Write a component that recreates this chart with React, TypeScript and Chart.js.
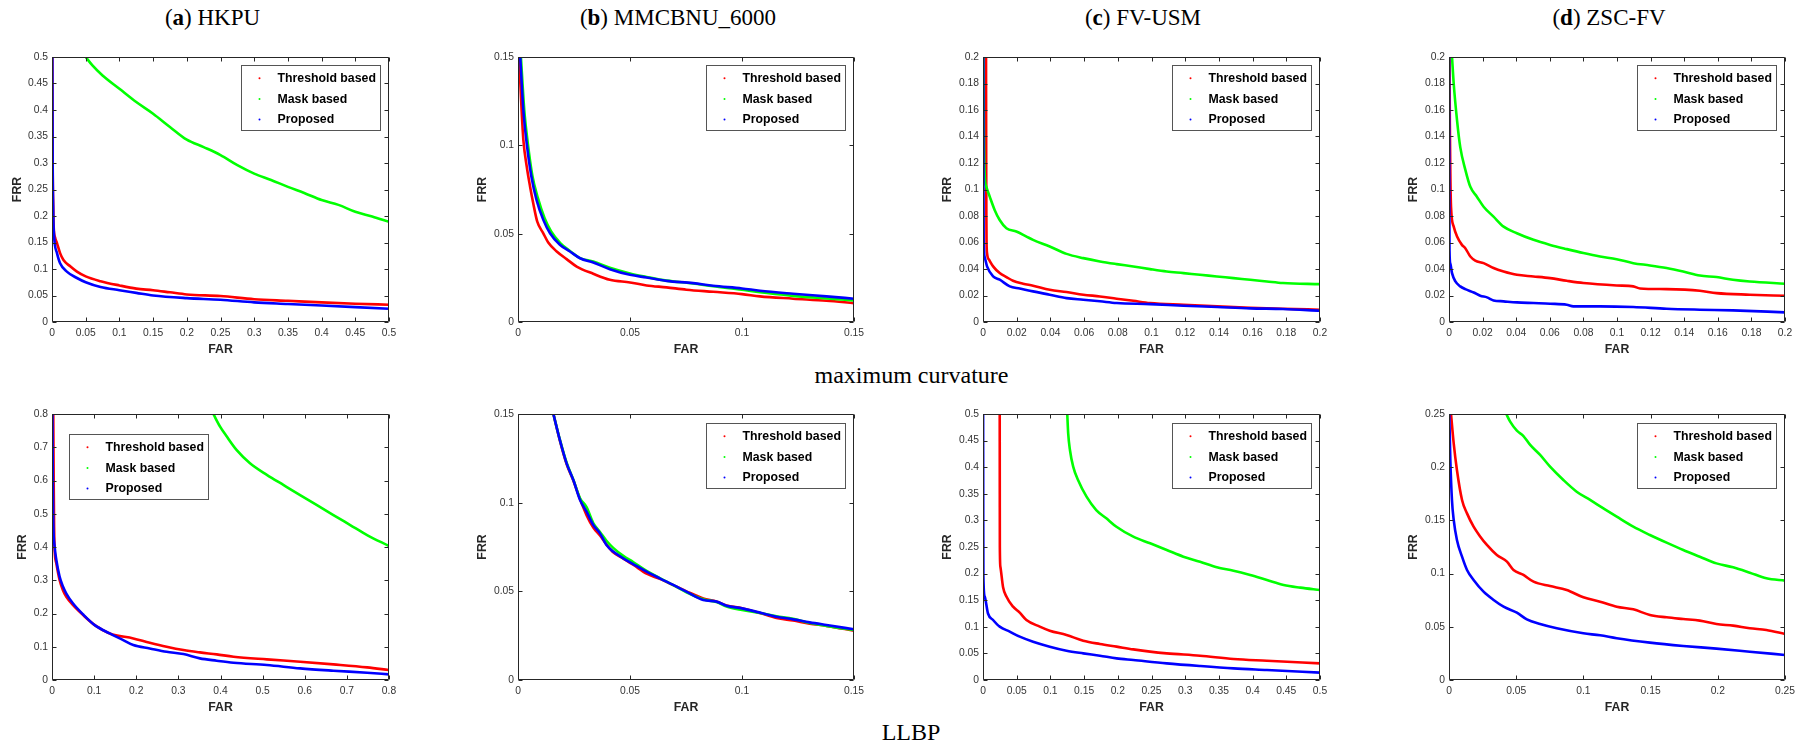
import React, { useEffect, useRef } from 'react';
import { Chart, registerables } from 'chart.js';

Chart.register(...registerables);

type Pt = [number, number];

// ---------- Series labels / colours ----------
const seriesLabels = ['Threshold based', 'Mask based', 'Proposed'];
const seriesColors = ['#ff0000', '#00ff00', '#0000ff'];

// ---------- Panel titles ----------
const panelTitles: [string, string][] = [
  ['a', 'HKPU'],
  ['b', 'MMCBNU_6000'],
  ['c', 'FV-USM'],
  ['d', 'ZSC-FV'],
];
const rowCaptions = ['maximum curvature', 'LLBP'];

// ---------- Tick values ----------
const ticks05by005 = [0, 0.05, 0.1, 0.15, 0.2, 0.25, 0.3, 0.35, 0.4, 0.45, 0.5];
const ticks015by005 = [0, 0.05, 0.1, 0.15];
const ticks02by002 = [0, 0.02, 0.04, 0.06, 0.08, 0.1, 0.12, 0.14, 0.16, 0.18, 0.2];
const ticks08by01 = [0, 0.1, 0.2, 0.3, 0.4, 0.5, 0.6, 0.7, 0.8];
const ticks025by005 = [0, 0.05, 0.1, 0.15, 0.2, 0.25];

// ---------- (a) HKPU, maximum curvature ----------
const hkpuMcThreshold: Pt[] = [[0.0005,0.5],[0.001,0.3],[0.0018,0.22],[0.0025,0.18],[0.0045,0.16],[0.0074,0.149],[0.012,0.13],[0.017,0.117],[0.027,0.105],[0.037,0.095],[0.05,0.086],[0.072,0.077],[0.1,0.069],[0.125,0.063],[0.15,0.06],[0.175,0.056],[0.2,0.052],[0.25,0.049],[0.3,0.043],[0.35,0.04],[0.4,0.037],[0.45,0.0345],[0.5,0.0326]];
const hkpuMcMask: Pt[] = [[0.05,0.5],[0.06,0.484],[0.075,0.465],[0.1,0.44],[0.125,0.415],[0.15,0.393],[0.175,0.368],[0.2,0.344],[0.225,0.33],[0.25,0.315],[0.275,0.296],[0.3,0.28],[0.325,0.268],[0.35,0.255],[0.375,0.243],[0.4,0.23],[0.425,0.221],[0.45,0.208],[0.475,0.199],[0.5,0.189]];
const hkpuMcProposed: Pt[] = [[0.0005,0.5],[0.001,0.3],[0.0017,0.22],[0.0025,0.174],[0.0074,0.13],[0.012,0.111],[0.022,0.095],[0.037,0.083],[0.05,0.075],[0.072,0.066],[0.1,0.06],[0.125,0.055],[0.15,0.05],[0.2,0.045],[0.25,0.042],[0.3,0.037],[0.35,0.034],[0.4,0.031],[0.45,0.028],[0.5,0.025]];

// ---------- (b) MMCBNU_6000, maximum curvature ----------
const mmcMcThreshold: Pt[] = [[0.0005,0.15],[0.0016,0.12],[0.0024,0.103],[0.0039,0.088],[0.0054,0.0766],[0.0068,0.0672],[0.0086,0.0568],[0.0113,0.0502],[0.0135,0.045],[0.0173,0.0399],[0.0217,0.0356],[0.0262,0.0314],[0.0336,0.0273],[0.041,0.0239],[0.05,0.0224],[0.0574,0.0207],[0.0663,0.0196],[0.0752,0.0183],[0.0871,0.0171],[0.1,0.0158],[0.108,0.0145],[0.1228,0.0132],[0.1377,0.012],[0.15,0.0107]];
const mmcMcMask: Pt[] = [[0.0013,0.15],[0.0028,0.12],[0.0043,0.102],[0.0064,0.083],[0.0088,0.0705],[0.0118,0.059],[0.0148,0.0512],[0.019,0.0445],[0.0232,0.0402],[0.0277,0.0362],[0.0336,0.0342],[0.041,0.0307],[0.05,0.0275],[0.0574,0.0255],[0.0663,0.0234],[0.0782,0.0218],[0.0871,0.0202],[0.1,0.0183],[0.108,0.0168],[0.1228,0.0148],[0.1377,0.0133],[0.15,0.0122]];
const mmcMcProposed: Pt[] = [[0.001,0.15],[0.0024,0.12],[0.0039,0.101],[0.006,0.0822],[0.0083,0.069],[0.0113,0.0578],[0.0143,0.0502],[0.0187,0.0437],[0.0232,0.0399],[0.0277,0.0361],[0.0336,0.0337],[0.041,0.0299],[0.05,0.0267],[0.0574,0.0252],[0.0663,0.0233],[0.0782,0.022],[0.0871,0.0205],[0.1,0.019],[0.108,0.0177],[0.1228,0.016],[0.1377,0.0145],[0.15,0.0132]];

// ---------- (c) FV-USM, maximum curvature ----------
const usmMcThreshold: Pt[] = [[0.0018,0.2],[0.0019,0.12],[0.002,0.08],[0.0021,0.062],[0.0024,0.052],[0.0036,0.047],[0.006,0.042],[0.0099,0.0369],[0.0139,0.0339],[0.0178,0.0311],[0.0238,0.0289],[0.0297,0.0274],[0.0396,0.0243],[0.0496,0.0226],[0.0595,0.0206],[0.0694,0.0193],[0.0793,0.0176],[0.0892,0.016],[0.0991,0.0143],[0.119,0.013],[0.139,0.0118],[0.1586,0.0108],[0.178,0.01],[0.2,0.0093]];
const usmMcMask: Pt[] = [[0.0003,0.2],[0.0005,0.15],[0.0008,0.12],[0.0012,0.107],[0.002,0.102],[0.004,0.0946],[0.0069,0.0846],[0.0099,0.077],[0.0139,0.0708],[0.0198,0.0683],[0.0258,0.0645],[0.0297,0.062],[0.0396,0.057],[0.0496,0.0514],[0.0595,0.0482],[0.0694,0.0457],[0.0793,0.0437],[0.0892,0.0419],[0.0991,0.0399],[0.109,0.0381],[0.119,0.0369],[0.1288,0.0356],[0.1388,0.0344],[0.1487,0.0331],[0.1586,0.0319],[0.1685,0.0306],[0.178,0.0294],[0.2,0.0286]];
const usmMcProposed: Pt[] = [[0.0002,0.2],[0.0003,0.1],[0.0004,0.062],[0.001,0.049],[0.0024,0.042],[0.006,0.0344],[0.0099,0.0319],[0.0159,0.0269],[0.0218,0.0253],[0.0297,0.0231],[0.0396,0.0206],[0.0496,0.018],[0.0595,0.0168],[0.0694,0.0156],[0.0793,0.0143],[0.0991,0.0135],[0.119,0.0123],[0.139,0.0113],[0.1586,0.0103],[0.178,0.0098],[0.2,0.0085]];

// ---------- (d) ZSC-FV, maximum curvature ----------
const zscMcThreshold: Pt[] = [[0.0003,0.2],[0.0005,0.15],[0.0008,0.112],[0.0012,0.087],[0.0028,0.072],[0.0048,0.0645],[0.0077,0.0582],[0.0097,0.0557],[0.0127,0.0494],[0.0156,0.0464],[0.0206,0.0444],[0.0265,0.0407],[0.0325,0.0381],[0.0404,0.0356],[0.0503,0.0344],[0.0602,0.0331],[0.0701,0.0311],[0.08,0.0294],[0.0998,0.0276],[0.1097,0.0269],[0.1137,0.0253],[0.1295,0.0248],[0.1493,0.0236],[0.1592,0.0218],[0.179,0.0206],[0.2,0.0198]];
const zscMcMask: Pt[] = [[0.0018,0.2],[0.0028,0.18],[0.0048,0.152],[0.0067,0.132],[0.0097,0.115],[0.0127,0.102],[0.0166,0.0946],[0.0206,0.087],[0.0265,0.0795],[0.0325,0.072],[0.0404,0.067],[0.0503,0.062],[0.0602,0.0582],[0.0701,0.055],[0.08,0.052],[0.0899,0.0494],[0.0998,0.0474],[0.1097,0.0444],[0.1196,0.0427],[0.1295,0.0407],[0.1394,0.0381],[0.1493,0.0351],[0.1592,0.0339],[0.169,0.0319],[0.179,0.0306],[0.2,0.0289]];
const zscMcProposed: Pt[] = [[0.0001,0.2],[0.0002,0.1],[0.0003,0.054],[0.0008,0.044],[0.0018,0.0369],[0.0038,0.0306],[0.0067,0.0269],[0.0097,0.0248],[0.0147,0.0223],[0.0186,0.0198],[0.0226,0.0186],[0.0265,0.0163],[0.0325,0.0156],[0.0404,0.0148],[0.0503,0.0143],[0.0602,0.0138],[0.0701,0.013],[0.074,0.0118],[0.0899,0.0118],[0.1097,0.0113],[0.1295,0.01],[0.1493,0.0093],[0.169,0.0088],[0.2,0.0073]];

// ---------- (a) HKPU, LLBP ----------
const hkpuLbThreshold: Pt[] = [[0.003,0.8],[0.004,0.6],[0.005,0.461],[0.0063,0.391],[0.0103,0.351],[0.018,0.301],[0.026,0.27],[0.034,0.25],[0.05,0.225],[0.074,0.195],[0.1015,0.165],[0.137,0.14],[0.193,0.125],[0.232,0.112],[0.272,0.1],[0.312,0.09],[0.351,0.083],[0.391,0.077],[0.431,0.07],[0.51,0.062],[0.589,0.055],[0.668,0.047],[0.748,0.038],[0.8,0.03]];
const hkpuLbMask: Pt[] = [[0.383,0.8],[0.399,0.762],[0.415,0.732],[0.438,0.692],[0.47,0.652],[0.51,0.617],[0.55,0.586],[0.589,0.556],[0.629,0.526],[0.668,0.496],[0.708,0.466],[0.748,0.436],[0.8,0.403]];
const hkpuLbProposed: Pt[] = [[0.001,0.8],[0.002,0.6],[0.003,0.48],[0.0063,0.401],[0.0103,0.361],[0.018,0.311],[0.026,0.281],[0.034,0.26],[0.05,0.23],[0.074,0.197],[0.1015,0.165],[0.137,0.14],[0.169,0.12],[0.193,0.105],[0.232,0.095],[0.272,0.085],[0.312,0.078],[0.351,0.065],[0.391,0.058],[0.431,0.052],[0.51,0.045],[0.589,0.035],[0.668,0.028],[0.748,0.022],[0.8,0.017]];

// ---------- (b) MMCBNU_6000, LLBP ----------
const mmcLbThreshold: Pt[] = [[0.0158,0.15],[0.0187,0.135],[0.0217,0.1218],[0.0247,0.1125],[0.0277,0.102],[0.0306,0.093],[0.0336,0.086],[0.0366,0.0815],[0.0395,0.0765],[0.0425,0.072],[0.047,0.0685],[0.0514,0.065],[0.0574,0.06],[0.0633,0.057],[0.0693,0.0535],[0.0752,0.05],[0.0827,0.046],[0.0886,0.0443],[0.0931,0.042],[0.1,0.0405],[0.108,0.0378],[0.1154,0.035],[0.1228,0.0335],[0.1302,0.0318],[0.1377,0.0305],[0.15,0.0278]];
const mmcLbMask: Pt[] = [[0.0158,0.15],[0.0187,0.1355],[0.0217,0.1225],[0.0247,0.113],[0.0277,0.1025],[0.0306,0.0975],[0.0336,0.0885],[0.0366,0.0835],[0.0395,0.0785],[0.0425,0.0745],[0.047,0.07],[0.0514,0.0665],[0.0574,0.0615],[0.0633,0.0575],[0.0693,0.0535],[0.0752,0.0495],[0.0827,0.0455],[0.0886,0.044],[0.0931,0.0415],[0.1,0.0395],[0.108,0.0378],[0.1154,0.036],[0.1228,0.0345],[0.1302,0.0322],[0.1377,0.0305],[0.15,0.0282]];
const mmcLbProposed: Pt[] = [[0.0158,0.15],[0.0187,0.1353],[0.0217,0.1222],[0.0247,0.1128],[0.0277,0.1015],[0.0306,0.0949],[0.0336,0.0874],[0.0366,0.0827],[0.0395,0.0761],[0.0425,0.0724],[0.047,0.0686],[0.0514,0.0654],[0.0574,0.0611],[0.0633,0.0573],[0.0693,0.0536],[0.0752,0.0498],[0.0827,0.0451],[0.0886,0.0442],[0.0931,0.0419],[0.1,0.0404],[0.108,0.038],[0.1154,0.0357],[0.1228,0.0342],[0.1302,0.0325],[0.1377,0.031],[0.15,0.0286]];

// ---------- (c) FV-USM, LLBP ----------
const usmLbThreshold: Pt[] = [[0.0248,0.5],[0.0249,0.35],[0.025,0.25],[0.0258,0.213],[0.0297,0.175],[0.0347,0.157],[0.0446,0.1378],[0.0545,0.1266],[0.0644,0.1128],[0.0842,0.1003],[0.099,0.0927],[0.1239,0.0846],[0.1487,0.0739],[0.1734,0.0677],[0.1982,0.0627],[0.223,0.0576],[0.2478,0.0533],[0.2726,0.0501],[0.322,0.0457],[0.3717,0.0395],[0.4212,0.0363],[0.5,0.0313]];
const usmLbMask: Pt[] = [[0.125,0.5],[0.1264,0.4637],[0.129,0.4323],[0.1338,0.401],[0.141,0.376],[0.1536,0.3446],[0.168,0.3195],[0.183,0.3039],[0.198,0.288],[0.223,0.2694],[0.248,0.2569],[0.2726,0.2444],[0.2973,0.2318],[0.322,0.2224],[0.3469,0.2118],[0.3717,0.2055],[0.3964,0.1974],[0.4212,0.188],[0.446,0.1786],[0.4708,0.1736],[0.5,0.1692]];
const usmLbProposed: Pt[] = [[0.0002,0.5],[0.0004,0.3],[0.0006,0.194],[0.0025,0.157],[0.0074,0.125],[0.0149,0.1128],[0.0248,0.1003],[0.0396,0.0909],[0.0545,0.0815],[0.0743,0.072],[0.099,0.0627],[0.1239,0.0551],[0.1487,0.0501],[0.1734,0.0457],[0.1982,0.0407],[0.223,0.0376],[0.2726,0.0313],[0.322,0.0263],[0.3717,0.0219],[0.4212,0.0188],[0.5,0.0138]];

// ---------- (d) ZSC-FV, LLBP ----------
const zscLbThreshold: Pt[] = [[0.0015,0.25],[0.0035,0.2224],[0.0059,0.1974],[0.0097,0.1692],[0.0134,0.1566],[0.0183,0.1441],[0.0233,0.1347],[0.0282,0.1269],[0.0356,0.1175],[0.0431,0.1112],[0.048,0.1034],[0.0554,0.0987],[0.0629,0.0924],[0.0752,0.0883],[0.0876,0.0846],[0.1,0.0777],[0.1124,0.0736],[0.1248,0.0689],[0.1371,0.0664],[0.1495,0.0611],[0.1619,0.0589],[0.1743,0.0573],[0.1866,0.0558],[0.199,0.0526],[0.2114,0.0511],[0.2238,0.0486],[0.2361,0.047],[0.25,0.0432]];
const zscLbMask: Pt[] = [[0.0426,0.25],[0.0455,0.2428],[0.0505,0.2343],[0.0554,0.2293],[0.0604,0.2209],[0.0678,0.2115],[0.0752,0.2005],[0.0851,0.188],[0.095,0.177],[0.105,0.1692],[0.1149,0.1613],[0.1248,0.1535],[0.1371,0.1441],[0.1495,0.1363],[0.1619,0.1291],[0.1743,0.1222],[0.1866,0.1159],[0.199,0.1096],[0.2114,0.1059],[0.2238,0.1009],[0.2361,0.0956],[0.25,0.0934]];
const zscLbProposed: Pt[] = [[0.0002,0.25],[0.001,0.2068],[0.0022,0.1692],[0.0035,0.1504],[0.0059,0.1316],[0.0097,0.1159],[0.0134,0.1034],[0.0183,0.094],[0.0257,0.083],[0.0332,0.0752],[0.0406,0.0689],[0.0505,0.0633],[0.0579,0.057],[0.0678,0.0526],[0.0802,0.0486],[0.1,0.0439],[0.1124,0.042],[0.1248,0.0392],[0.1495,0.0351],[0.1743,0.032],[0.199,0.0295],[0.2238,0.0266],[0.25,0.0235]];

// ---------- Layout ----------
interface PanelSpec {
  key: string;
  plotLeft: number; plotTop: number; plotW: number; plotH: number;
  xMax: number; yMax: number;
  xTicks: number[]; yTicks: number[];
  series: Pt[][];
  legendCorner: 'ne' | 'nw';
  legendDx: number; legendDy: number;
  frrOffset: number;
}

const colLeft = [52, 518, 983, 1449];
const colWidth = [337, 336, 337, 336];
const rowTop = [57, 414];
const rowHeight = [265, 266];

const panels: PanelSpec[] = [
  { key: 'mc-a', plotLeft: colLeft[0], plotTop: rowTop[0], plotW: colWidth[0], plotH: rowHeight[0], xMax: 0.5, yMax: 0.5, xTicks: ticks05by005, yTicks: ticks05by005, series: [hkpuMcThreshold, hkpuMcMask, hkpuMcProposed], legendCorner: 'ne', legendDx: 9, legendDy: 8, frrOffset: 34 },
  { key: 'mc-b', plotLeft: colLeft[1], plotTop: rowTop[0], plotW: colWidth[1], plotH: rowHeight[0], xMax: 0.15, yMax: 0.15, xTicks: ticks015by005, yTicks: ticks015by005, series: [mmcMcThreshold, mmcMcMask, mmcMcProposed], legendCorner: 'ne', legendDx: 9, legendDy: 8, frrOffset: 35 },
  { key: 'mc-c', plotLeft: colLeft[2], plotTop: rowTop[0], plotW: colWidth[2], plotH: rowHeight[0], xMax: 0.2, yMax: 0.2, xTicks: ticks02by002, yTicks: ticks02by002, series: [usmMcThreshold, usmMcMask, usmMcProposed], legendCorner: 'ne', legendDx: 9, legendDy: 8, frrOffset: 35 },
  { key: 'mc-d', plotLeft: colLeft[3], plotTop: rowTop[0], plotW: colWidth[3], plotH: rowHeight[0], xMax: 0.2, yMax: 0.2, xTicks: ticks02by002, yTicks: ticks02by002, series: [zscMcThreshold, zscMcMask, zscMcProposed], legendCorner: 'ne', legendDx: 9, legendDy: 8, frrOffset: 35 },
  { key: 'lb-a', plotLeft: colLeft[0], plotTop: rowTop[1], plotW: colWidth[0], plotH: rowHeight[1], xMax: 0.8, yMax: 0.8, xTicks: ticks08by01, yTicks: ticks08by01, series: [hkpuLbThreshold, hkpuLbMask, hkpuLbProposed], legendCorner: 'nw', legendDx: 17, legendDy: 20, frrOffset: 29 },
  { key: 'lb-b', plotLeft: colLeft[1], plotTop: rowTop[1], plotW: colWidth[1], plotH: rowHeight[1], xMax: 0.15, yMax: 0.15, xTicks: ticks015by005, yTicks: ticks015by005, series: [mmcLbThreshold, mmcLbMask, mmcLbProposed], legendCorner: 'ne', legendDx: 9, legendDy: 9, frrOffset: 35 },
  { key: 'lb-c', plotLeft: colLeft[2], plotTop: rowTop[1], plotW: colWidth[2], plotH: rowHeight[1], xMax: 0.5, yMax: 0.5, xTicks: ticks05by005, yTicks: ticks05by005, series: [usmLbThreshold, usmLbMask, usmLbProposed], legendCorner: 'ne', legendDx: 9, legendDy: 9, frrOffset: 35 },
  { key: 'lb-d', plotLeft: colLeft[3], plotTop: rowTop[1], plotW: colWidth[3], plotH: rowHeight[1], xMax: 0.25, yMax: 0.25, xTicks: ticks025by005, yTicks: ticks025by005, series: [zscLbThreshold, zscLbMask, zscLbProposed], legendCorner: 'ne', legendDx: 9, legendDy: 9, frrOffset: 35 },
];

const Y_AXIS_W = 50;
const PAD_TOP = 12;
const PAD_RIGHT = 16;
const X_AXIS_H = 42;
const AXIS_COLOR = '#262626';
const SANS = '"Liberation Sans", Arial, Helvetica, sans-serif';
const SERIF = '"Liberation Serif", "Times New Roman", serif';
const LABEL_FONT_SIZE = 12.3;
const TICK_FONT_SIZE = 10.3;

const matlabAxesPlugin = {
  id: 'matlabAxes',
  afterDatasetsDraw(chart: any, _args: any, opts: any) {
    const { ctx, chartArea: a, scales } = chart;
    const xs = scales.x;
    const ys = scales.y;
    ctx.save();
    ctx.strokeStyle = AXIS_COLOR;
    ctx.lineWidth = 1;
    const L = Math.round(a.left) + 0.5;
    const R = Math.round(a.right) - 0.5;
    const T = Math.round(a.top) + 0.5;
    const B = Math.round(a.bottom) - 0.5;
    ctx.beginPath();
    ctx.rect(L, T, R - L, B - T);
    ctx.stroke();
    const tl = 4;
    ctx.beginPath();
    xs.ticks.forEach((t: any) => {
      const px = Math.round(xs.getPixelForValue(t.value)) + 0.5;
      ctx.moveTo(px, B); ctx.lineTo(px, B - tl);
      ctx.moveTo(px, T); ctx.lineTo(px, T + tl);
    });
    ys.ticks.forEach((t: any) => {
      const py = Math.round(ys.getPixelForValue(t.value)) + 0.5;
      ctx.moveTo(L, py); ctx.lineTo(L + tl, py);
      ctx.moveTo(R, py); ctx.lineTo(R - tl, py);
    });
    ctx.stroke();

    // legend
    const bw = 139, bh = 65;
    const bx = Math.round(opts.corner === 'ne' ? a.right - opts.dx - bw : a.left + opts.dx) + 0.5;
    const by = Math.round(a.top + opts.dy) + 0.5;
    ctx.fillStyle = '#ffffff';
    ctx.fillRect(bx, by, bw, bh);
    ctx.strokeStyle = '#555555';
    ctx.lineWidth = 1;
    ctx.strokeRect(bx, by, bw, bh);
    const rows = [12.7, 33.5, 54];
    ctx.font = `bold ${LABEL_FONT_SIZE}px ${SANS}`;
    ctx.textBaseline = 'middle';
    ctx.textAlign = 'left';
    chart.data.datasets.forEach((ds: any, i: number) => {
      const cy = by + rows[i];
      ctx.fillStyle = ds.borderColor;
      ctx.beginPath();
      ctx.arc(bx + 18, cy, 1.0, 0, Math.PI * 2);
      ctx.fill();
      ctx.fillStyle = '#000000';
      ctx.fillText(ds.label, bx + 36, cy + 0.5);
    });
    ctx.restore();
  },
};

function Panel({ spec }: { spec: PanelSpec }) {
  const ref = useRef<HTMLCanvasElement | null>(null);
  const cw = Y_AXIS_W + spec.plotW + PAD_RIGHT;
  const ch = PAD_TOP + spec.plotH + X_AXIS_H;
  useEffect(() => {
    if (!ref.current) return;
    const lh = LABEL_FONT_SIZE * 1.2;
    const chart = new Chart(ref.current, {
      type: 'scatter',
      data: {
        datasets: spec.series.map((pts, i) => ({
          label: seriesLabels[i],
          data: pts.map(([x, y]) => ({ x, y })),
          borderColor: seriesColors[i],
          backgroundColor: seriesColors[i],
          borderWidth: 2.6,
          pointRadius: 0,
          showLine: true,
          cubicInterpolationMode: 'monotone',
          order: 2 - i,
        })),
      },
      options: {
        responsive: false,
        animation: false,
        devicePixelRatio: 1,
        events: [],
        layout: { padding: { top: PAD_TOP, right: PAD_RIGHT, left: 0, bottom: 0 } },
        scales: {
          x: {
            type: 'linear',
            min: 0,
            max: spec.xMax,
            grid: { display: false, drawTicks: false },
            border: { display: false },
            afterBuildTicks: (s: any) => { s.ticks = spec.xTicks.map((v) => ({ value: v })); },
            afterFit: (s: any) => { s.height = X_AXIS_H; },
            ticks: {
              autoSkip: false, maxRotation: 0, minRotation: 0, padding: 5,
              color: '#333333',
              font: { family: SANS, size: TICK_FONT_SIZE },
              callback: (v: any) => String(v),
            },
            title: {
              display: true, text: 'FAR', color: AXIS_COLOR,
              font: { family: SANS, size: LABEL_FONT_SIZE, weight: 'bold' },
              padding: { top: 0, bottom: X_AXIS_H - 27.5 - lh / 2 },
            },
          },
          y: {
            type: 'linear',
            min: 0,
            max: spec.yMax,
            grid: { display: false, drawTicks: false },
            border: { display: false },
            afterBuildTicks: (s: any) => { s.ticks = spec.yTicks.map((v) => ({ value: v })); },
            afterFit: (s: any) => { s.width = Y_AXIS_W; },
            ticks: {
              autoSkip: false, padding: 4,
              color: '#333333',
              font: { family: SANS, size: TICK_FONT_SIZE },
              callback: (v: any) => String(v),
            },
            title: {
              display: true, text: 'FRR', color: AXIS_COLOR,
              font: { family: SANS, size: LABEL_FONT_SIZE, weight: 'bold' },
              padding: { top: Y_AXIS_W - spec.frrOffset - lh / 2, bottom: 0 },
            },
          },
        },
        plugins: {
          legend: { display: false },
          tooltip: { enabled: false },
          matlabAxes: { corner: spec.legendCorner, dx: spec.legendDx, dy: spec.legendDy },
        } as any,
      },
      plugins: [matlabAxesPlugin],
    } as any);
    return () => chart.destroy();
  }, [spec]);
  return (
    <canvas
      ref={ref}
      width={cw}
      height={ch}
      style={{ position: 'absolute', left: spec.plotLeft - Y_AXIS_W, top: spec.plotTop - PAD_TOP, width: cw, height: ch }}
    />
  );
}

const titleCenters = [212.5, 678, 1143, 1609];

export default function App() {
  return (
    <div style={{ position: 'absolute', left: 0, top: 0, width: 1804, height: 747, background: '#ffffff', overflow: 'hidden' }}>
      {panelTitles.map(([letter, name], i) => (
        <div
          key={letter}
          style={{ position: 'absolute', left: titleCenters[i], top: 6.2, transform: 'translateX(-50%)', fontFamily: SERIF, fontSize: 23, lineHeight: '23px', whiteSpace: 'nowrap', color: '#000' }}
        >
          (<span style={{ fontWeight: 'bold' }}>{letter}</span>) {name}
        </div>
      ))}
      <div style={{ position: 'absolute', left: 911.5, top: 362.9, transform: 'translateX(-50%)', fontFamily: SERIF, fontSize: 24, lineHeight: '24px', whiteSpace: 'nowrap', color: '#000' }}>
        {rowCaptions[0]}
      </div>
      <div style={{ position: 'absolute', left: 911, top: 719.9, transform: 'translateX(-50%)', fontFamily: SERIF, fontSize: 24, lineHeight: '24px', whiteSpace: 'nowrap', color: '#000' }}>
        {rowCaptions[1]}
      </div>
      {panels.map((p) => (
        <Panel key={p.key} spec={p} />
      ))}
    </div>
  );
}
